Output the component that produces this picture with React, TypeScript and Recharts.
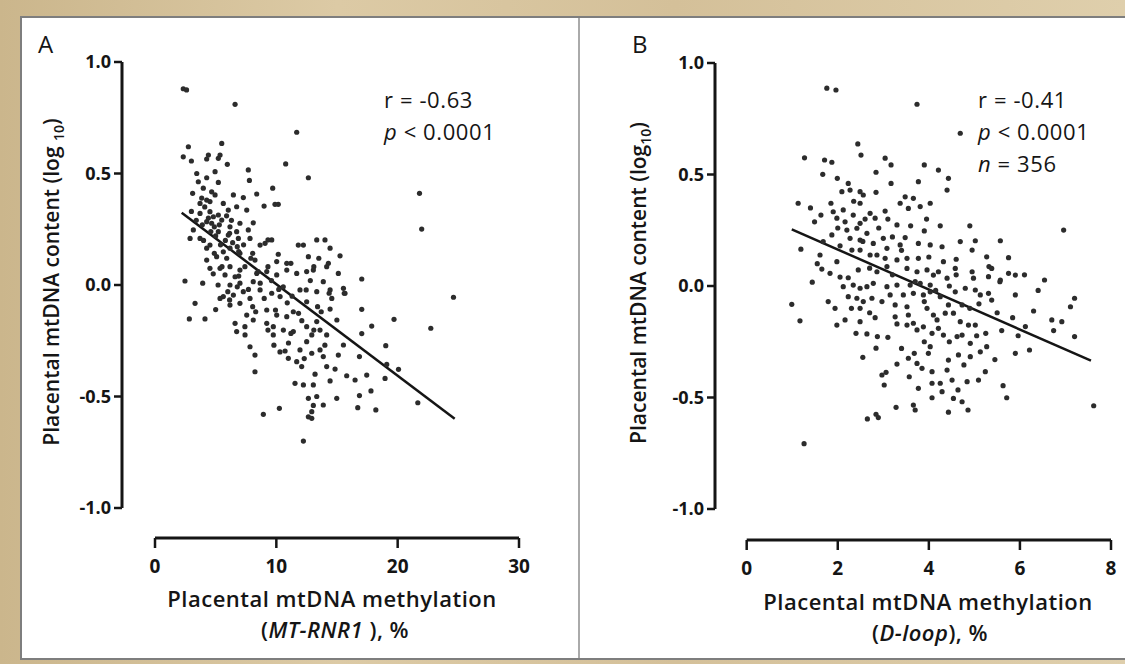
import { ScatterChart, Scatter, XAxis, YAxis, ReferenceLine } from "recharts";

// panel A: MT-RNR1 methylation (%) vs log10 mtDNA content
const rnr1X = [2.33, 2.6, 6.6, 11.68, 2.75, 5.5, 2.33, 3.0, 4.4, 4.26, 5.36, 5.22, 5.96, 10.77, 12.64, 3.44, 4.26, 4.95, 7.69, 7.78, 3.57, 5.22, 3.98, 4.67, 3.1, 6.46, 7.28, 8.38, 9.7, 8.99, 9.89, 10.16, 3.71, 4.26, 4.53, 4.95, 5.63, 6.04, 6.73, 7.56, 8.1, 3.71, 4.53, 4.81, 5.22, 5.5, 4.26, 4.67, 6.18, 7.0, 3.16, 2.89, 3.71, 5.22, 6.04, 6.73, 6.87, 7.69, 7.83, 8.66, 9.07, 9.62, 11.81, 12.23, 4.26, 4.53, 5.63, 6.18, 7.0, 10.16, 8.24, 4.26, 5.08, 5.91, 10.03, 10.86, 12.64,
  21.8, 21.98, 13.33, 14.01, 14.43, 15.25, 14.29,
  2.47, 3.93, 3.3, 2.83, 4.12, 5.36, 6.6, 6.73, 7.42, 7.56, 8.1, 7.83, 8.24, 8.24, 10.72, 10.99, 11.68, 12.09, 11.95, 11.54, 12.23, 12.64, 8.93, 10.25, 12.64, 12.23,
  4.53, 5.36, 6.18, 7.0, 5.77, 6.6, 8.38, 9.21, 10.03, 10.86, 11.68, 12.5, 6.18, 7.0, 8.1, 5.63, 6.46, 7.28, 7.83, 8.66, 9.62, 10.31, 6.18, 7.0, 9.21, 10.03, 10.86, 11.4, 9.21, 9.75, 9.75, 10.58, 11.4, 12.5, 12.5, 12.5, 11.95,
  14.15, 15.11, 17.04, 24.6, 13.05, 13.87, 13.33, 14.43, 15.53, 15.66, 14.57, 14.43, 17.04, 19.7, 17.86, 22.73, 17.04, 13.33, 12.92, 14.15, 13.6, 15.53, 15.11, 13.6, 13.87, 12.92, 16.85, 19.02, 19.1, 20.07, 18.96, 14.15, 14.84, 13.19, 15.8, 16.49, 17.45, 14.43, 13.05, 17.8, 16.85, 14.98, 13.87, 13.33, 12.92, 16.71, 18.2, 21.66, 13.05, 12.92,
  4.89, 6.15, 6.78, 8.05, 9.31, 4.89, 5.52, 7.41, 9.31, 11.2, 13.09, 6.78, 8.67, 10.57, 12.46, 14.35, 6.15, 8.05, 9.93, 11.83, 13.4, 15.6, 7.41, 9.31, 11.2, 13.09, 14.99,
  3.85, 4.1, 4.4, 3.9, 4.6, 5.0, 5.3, 5.8, 6.4, 6.9, 5.4, 4.0, 3.4, 3.0, 5.9, 6.3, 7.3, 7.9, 8.5, 9.6, 10.2, 10.9, 11.3, 9.0, 8.3, 12.1, 13.7, 14.0, 12.3, 11.0, 10.3, 9.8, 12.8, 13.5, 7.7, 6.9, 5.2, 4.8, 5.0, 6.0];
const rnr1Y = [0.88, 0.875, 0.81, 0.685, 0.62, 0.635, 0.575, 0.556, 0.583, 0.565, 0.583, 0.568, 0.541, 0.543, 0.481, 0.5, 0.481, 0.508, 0.516, 0.469, 0.463, 0.46, 0.434, 0.418, 0.411, 0.404, 0.392, 0.408, 0.434, 0.354, 0.362, 0.362, 0.366, 0.381, 0.374, 0.404, 0.366, 0.336, 0.351, 0.336, 0.279, 0.321, 0.329, 0.306, 0.314, 0.291, 0.284, 0.277, 0.261, 0.277, 0.247, 0.209, 0.209, 0.239, 0.224, 0.239, 0.209, 0.247, 0.209, 0.179, 0.187, 0.202, 0.179, 0.179, 0.165, 0.179, 0.149, 0.165, 0.142, 0.138, 0.112, 0.112, 0.127, 0.12, 0.105, 0.097, 0.127,
  0.411, 0.251, 0.202, 0.202, 0.165, 0.131, 0.097,
  0.018, 0.008, -0.082, -0.152, -0.152, -0.06, -0.172, -0.209, -0.224, -0.135, -0.157, -0.277, -0.314, -0.389, -0.296, -0.329, -0.344, -0.366, -0.291, -0.441, -0.448, -0.508, -0.58, -0.553, -0.591, -0.7,
  0.075, 0.075, 0.082, 0.067, 0.045, 0.037, 0.052, 0.06, 0.045, 0.067, 0.052, 0.06, 0, 0.008, 0.015, -0.052, -0.045, -0.03, -0.06, -0.022, -0.037, -0.052, -0.09, -0.082, -0.112, -0.135, -0.142, -0.12, -0.172, -0.187, -0.224, -0.202, -0.209, -0.187, -0.254, -0.075, -0.022,
  0.082, 0.052, 0.027, -0.055, 0.067, 0.015, -0.03, -0.022, -0.015, -0.037, -0.06, -0.108, -0.109, -0.154, -0.184, -0.194, -0.218, -0.164, -0.224, -0.224, -0.202, -0.269, -0.314, -0.291, -0.321, -0.306, -0.321, -0.272, -0.356, -0.378, -0.419, -0.366, -0.377, -0.4, -0.407, -0.426, -0.404, -0.43, -0.448, -0.475, -0.496, -0.508, -0.538, -0.5, -0.568, -0.55, -0.56, -0.528, -0.54, -0.598,
  0.261, 0.232, 0.172, 0.142, 0.202, 0.142, 0.082, 0.082, 0.082, 0.097, 0.082, -0.008, 0.008, -0.008, -0.022, -0.037, -0.067, -0.097, -0.112, -0.127, -0.097, -0.037, -0.187, -0.202, -0.217, -0.202, -0.157,
  0.39, 0.35, 0.3, 0.27, 0.24, 0.22, 0.27, 0.2, 0.19, 0.15, 0.18, 0.2, 0.29, 0.33, 0.31, 0.29, 0.18, 0.12, 0.06, 0.02, -0.02, -0.08, -0.05, -0.06, -0.12, -0.16, -0.12, -0.27, -0.33, -0.26, -0.3, -0.27, 0.02, 0.12, -0.02, 0.04, 0.0, 0.05, -0.11, -0.03];
const rnr1Fit = [{ x: 2.2, y: 0.324 }, { x: 24.7, y: -0.6 }];

// panel B: D-loop methylation (%) vs log10 mtDNA content
const dloopX = [1.76, 1.96, 3.74, 2.44, 2.51, 1.27, 1.71, 1.87, 3.04, 3.17, 3.9, 1.67, 1.99, 2.84, 3.17, 3.77, 2.23, 2.09, 2.27, 2.49, 2.56, 2.84, 1.13, 1.85, 2.49, 3.48, 3.66, 3.37, 3.55, 3.81, 4.03, 3.04, 1.49, 1.63, 1.9, 2.12, 1.98, 2.16, 2.34, 2.49, 2.71, 2.82, 3.3, 3.9, 2.2, 2.42, 2.64, 2.27, 2.49, 1.87, 1.68, 3.0, 2.78, 3.08, 3.48, 3.37, 3.77, 4.03, 1.19, 1.61, 1.98, 2.31, 2.49, 2.71, 2.86, 3.04, 3.3, 3.52, 3.77,
  4.69, 4.21, 4.43, 4.4, 6.96, 4.29, 4.69, 5.02, 5.57, 4.95, 5.27, 5.75, 4.32,
  0.99, 1.17, 1.44, 1.65, 1.83, 1.79, 1.94, 1.98, 2.16, 2.23, 2.12, 2.34, 2.49, 2.64, 2.78, 2.23, 2.42, 2.56, 2.75, 2.45, 2.49, 2.82, 2.49, 2.4, 2.64, 2.87, 2.84, 2.55, 2.97, 3.08, 3.3, 3.15, 3.26, 3.26, 3.52, 3.44, 3.66, 3.88, 4.03, 3.55, 3.52, 3.66, 3.74, 3.88, 3.96, 4.1, 4.07, 4.03, 3.99, 3.68, 3.55, 3.74, 3.85, 4.07, 2.97, 3.06, 3.02, 3.57, 3.77, 4.07, 4.07, 3.28, 3.66, 3.7, 2.84, 2.89, 2.65, 1.26,
  3.52, 3.74, 3.96, 4.1, 3.59, 3.81, 4.03, 3.08, 2.86,
  6.54, 7.2, 7.11, 5.9, 6.3, 5.84, 6.7, 6.92, 6.74, 7.2, 6.12, 5.96, 6.21, 5.9, 5.63, 5.71, 7.62, 5.25, 5.05, 5.27, 5.13, 4.91, 5.24, 5.09, 4.84, 4.77, 4.65, 4.43, 4.4, 4.51, 4.64, 4.29, 4.25, 4.54, 4.73, 4.43, 4.86,
  4.21, 4.4, 4.58, 4.95, 4.98, 5.31, 5.38, 5.57, 5.75, 5.9, 4.58, 4.8, 5.02, 5.13, 5.31, 5.38, 4.36, 4.18, 4.21, 4.54, 4.69, 4.87, 5.02, 4.73, 4.25, 4.43, 4.32, 4.62, 4.73, 4.91, 5.32, 5.56,
  2.0, 2.35, 2.6, 2.9, 3.1, 3.2, 2.55, 2.05, 2.7, 3.2, 3.4, 3.6, 3.95, 4.25, 4.6, 3.7, 3.9, 4.15, 4.45, 4.6, 4.0, 3.3, 3.1, 3.4, 3.9, 4.45, 4.9, 5.1, 5.5, 5.6, 5.45, 3.3, 2.7, 2.3, 2.05, 1.55, 1.4, 6.1, 6.4, 4.9];
const dloopY = [0.887, 0.879, 0.815, 0.637, 0.587, 0.575, 0.565, 0.555, 0.573, 0.543, 0.543, 0.501, 0.483, 0.51, 0.46, 0.468, 0.46, 0.423, 0.43, 0.423, 0.408, 0.42, 0.371, 0.371, 0.371, 0.4, 0.393, 0.371, 0.348, 0.356, 0.371, 0.336, 0.288, 0.318, 0.333, 0.341, 0.304, 0.288, 0.318, 0.281, 0.326, 0.304, 0.274, 0.247, 0.251, 0.259, 0.236, 0.214, 0.206, 0.229, 0.199, 0.214, 0.191, 0.169, 0.217, 0.184, 0.191, 0.184, 0.165, 0.139, 0.109, 0.161, 0.161, 0.139, 0.139, 0.124, 0.117, 0.124, 0.124,
  0.685, 0.52, 0.483, 0.43, 0.251, 0.176, 0.199, 0.203, 0.203, 0.161, 0.131, 0.127, 0.109,
  -0.082, -0.156, 0.017, 0.076, 0.057, -0.07, -0.1, -0.175, -0.152, 0.037, -0.003, 0.004, -0.01, -0.003, 0.012, -0.048, -0.055, -0.07, -0.055, 0.072, -0.1, -0.142, -0.16, -0.212, -0.215, -0.227, -0.279, -0.32, -0.07, -0.003, 0.004, -0.04, -0.085, -0.138, -0.093, -0.04, -0.033, -0.04, -0.026, -0.13, -0.175, -0.167, -0.197, -0.183, -0.1, -0.13, -0.212, -0.272, -0.302, -0.302, -0.324, -0.347, -0.369, -0.384, -0.399, -0.387, -0.444, -0.407, -0.459, -0.436, -0.501, -0.544, -0.534, -0.556, -0.575, -0.59, -0.596, -0.707,
  0.079, 0.064, 0.072, 0.049, 0.004, 0.012, 0.004, 0.087, 0.064,
  0.027, -0.055, -0.093, -0.04, -0.112, -0.142, -0.152, -0.16, -0.2, -0.227, -0.182, -0.223, -0.287, -0.302, -0.447, -0.501, -0.537, -0.212, -0.223, -0.272, -0.295, -0.317, -0.384, -0.422, -0.429, -0.354, -0.309, -0.332, -0.377, -0.422, -0.466, -0.474, -0.436, -0.504, -0.519, -0.566, -0.556,
  0.064, 0.035, 0.079, 0.064, 0.035, 0.042, 0.079, 0.027, 0.057, 0.049, -0.026, -0.01, -0.018, -0.04, -0.033, -0.063, -0.122, -0.152, -0.19, -0.122, -0.16, -0.175, -0.175, -0.085, -0.048, -0.085, -0.22, -0.227, -0.22, -0.257, 0.087, 0.019,
  0.26, 0.38, 0.3, 0.26, 0.3, 0.22, 0.2, 0.18, 0.08, 0.05, 0.16, 0.27, 0.3, 0.27, 0.12, 0.02, -0.07, -0.02, 0.0, 0.05, 0.13, -0.17, -0.23, -0.28, -0.25, -0.25, -0.1, -0.08, -0.12, -0.2, -0.33, -0.35, -0.12, -0.1, 0.04, 0.1, 0.35, 0.05, -0.02, 0.27];
const dloopFit = [{ x: 0.99, y: 0.254 }, { x: 7.56, y: -0.335 }];

const yTicks = [-1, -0.5, 0, 0.5, 1];
const rnr1Ticks = [0, 10, 20, 30];
const dloopTicks = [0, 2, 4, 6, 8];

const toPoints = (xs: number[], ys: number[]) => xs.map((x, i) => ({ x, y: ys[i] }));

const ink = "#151515";
const Dot = (p: any) => <circle cx={p.cx} cy={p.cy} r={2.6} fill="#2c2c2c" />;

function Panel({ points, fit, xTicks, xDomain, yDomain, width, margin, xHeight }: any) {
  const [x0, x1] = xDomain;
  const [y0] = yDomain;
  return (
    <ScatterChart width={width} height={664} margin={margin}>
      <XAxis
        type="number" dataKey="x" domain={xDomain} ticks={xTicks} interval={0} allowDataOverflow
        height={xHeight} axisLine={false} tickSize={10} tickMargin={12}
        tickLine={{ stroke: ink, strokeWidth: 2.5 }}
        tick={{ fill: ink, fontSize: 19, fontWeight: 700 }}
      />
      <YAxis
        type="number" dataKey="y" domain={yDomain} ticks={yTicks} interval={0} allowDataOverflow
        width={60} axisLine={false} tickSize={8} tickMargin={3}
        tickFormatter={(v: number) => v.toFixed(1)}
        tickLine={{ stroke: ink, strokeWidth: 2.5 }}
        tick={{ fill: ink, fontSize: 18, fontWeight: 700 }}
      />
      <ReferenceLine segment={[{ x: x0, y: -1 }, { x: x0, y: 1 }]} stroke={ink} strokeWidth={3} ifOverflow="visible" />
      <ReferenceLine segment={[{ x: 0, y: y0 }, { x: x1, y: y0 }]} stroke={ink} strokeWidth={3} ifOverflow="visible" />
      <Scatter data={points} shape={Dot} isAnimationActive={false} />
      <ReferenceLine segment={fit} stroke={ink} strokeWidth={2.5} ifOverflow="visible" />
    </ScatterChart>
  );
}

const xTitle = { fontSize: 22, fontWeight: 600, fill: ink, letterSpacing: 0.5 };
const yTitle = { fontSize: 21, fontWeight: 600, fill: ink };
const stat = { fontSize: 22, fill: ink, letterSpacing: 0.6 };

export default function App() {
  return (
    <div style={{ position: "absolute", left: 0, top: 0, width: 1125, height: 664, overflow: "hidden", fontFamily: "'Open Sans', sans-serif", background: "linear-gradient(90deg, #cbb68c 0%, #dccaa5 30%, #d4c099 60%, #dfcfac 100%)" }}>
      <div style={{ position: "absolute", left: 20, top: 16, width: 1120, height: 640, background: "#fff", border: "2px solid #7e7e7e" }} />
      <div style={{ position: "absolute", left: 578, top: 18, width: 2, height: 640, background: "#aaa" }} />
      <div style={{ position: "absolute", left: 0, top: 0 }}>
        <Panel points={toPoints(rnr1X, rnr1Y)} fit={rnr1Fit} xTicks={rnr1Ticks} xDomain={[-2.72, 30]} yDomain={[-1.1345, 1]}
          width={580} margin={{ top: 62, right: 61, bottom: 0, left: 62 }} xHeight={126} />
      </div>
      <div style={{ position: "absolute", left: 580, top: 0 }}>
        <Panel points={toPoints(dloopX, dloopY)} fit={dloopFit} xTicks={dloopTicks} xDomain={[-0.696, 8]} yDomain={[-1.139, 1]}
          width={545} margin={{ top: 63, right: 14, bottom: 0, left: 75 }} xHeight={124} />
      </div>
      <svg width={1125} height={664} style={{ position: "absolute", left: 0, top: 0, pointerEvents: "none" }}>
        <text x={38} y={53} fontSize={24} fill={ink}>A</text>
        <text x={632} y={53} fontSize={24} fill={ink}>B</text>

        <text x={384} y={108} {...stat}>r = -0.63</text>
        <text x={384} y={140} {...stat}><tspan fontStyle="italic">p</tspan> &lt; 0.0001</text>
        <text x={978} y={108} {...stat}>r = -0.41</text>
        <text x={978} y={140} {...stat}><tspan fontStyle="italic">p</tspan> &lt; 0.0001</text>
        <text x={978} y={172} {...stat}><tspan fontStyle="italic">n</tspan> = 356</text>

        <text transform="translate(59,282) rotate(-90)" textAnchor="middle" {...yTitle}>
          Placental mtDNA content (log <tspan fontSize={14} dy={5}>10</tspan><tspan dy={-5}>)</tspan>
        </text>
        <text transform="translate(646,283) rotate(-90)" textAnchor="middle" {...yTitle}>
          Placental mtDNA content (log<tspan fontSize={14} dy={5}>10</tspan><tspan dy={-5}>)</tspan>
        </text>

        <text x={332} y={607} textAnchor="middle" {...xTitle}>Placental mtDNA methylation</text>
        <text x={335} y={638} textAnchor="middle" {...xTitle}>(<tspan fontStyle="italic">MT-RNR1</tspan> ), %</text>
        <text x={928} y={610} textAnchor="middle" {...xTitle}>Placental mtDNA methylation</text>
        <text x={930} y={641} textAnchor="middle" {...xTitle}>(<tspan fontStyle="italic">D-loop</tspan>), %</text>
      </svg>
    </div>
  );
}
